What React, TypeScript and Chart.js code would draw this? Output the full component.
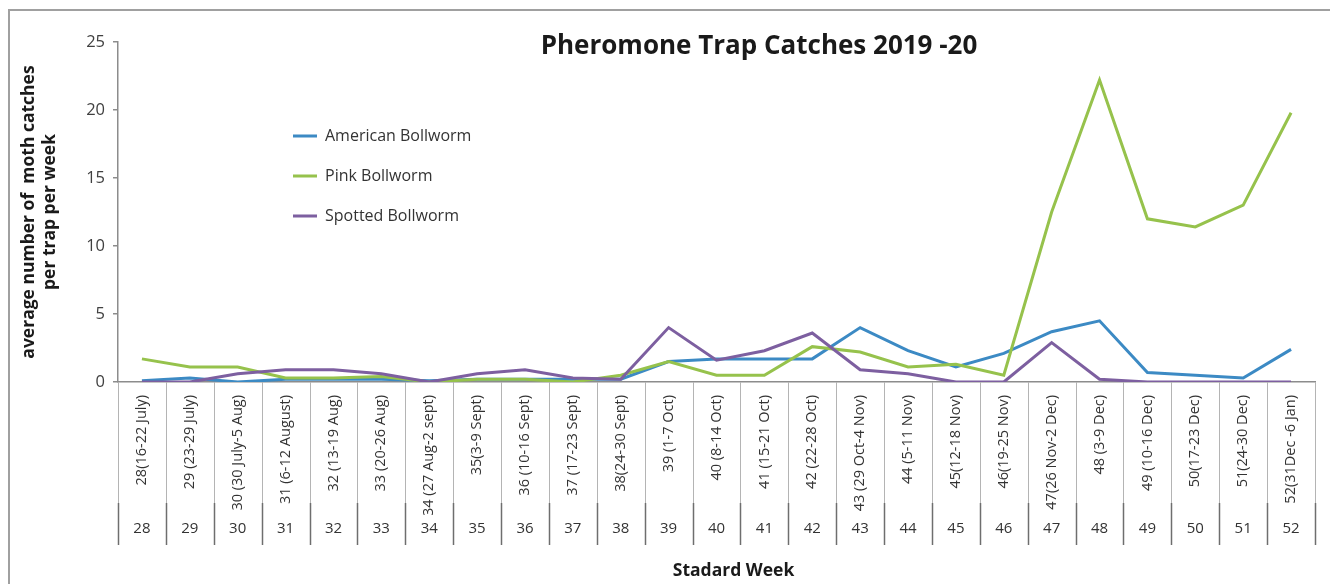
import React, { useEffect, useRef } from 'react';
import { Chart, registerables } from 'chart.js';

Chart.register(...registerables);

const weekLabels = [
  '28(16-22 July)', '29 (23-29 July)', '30 (30 July-5 Aug)', '31 (6-12 August)', '32 (13-19 Aug)',
  '33 (20-26 Aug)', '34 (27 Aug-2 sept)', '35(3-9 Sept)', '36 (10-16 Sept)', '37 (17-23 Sept)',
  '38(24-30 Sept)', '39 (1-7 Oct)', '40 (8-14 Oct)', '41 (15-21 Oct)', '42 (22-28 Oct)',
  '43 (29 Oct-4 Nov)', '44 (5-11 Nov)', '45(12-18 Nov)', '46(19-25 Nov)', '47(26 Nov-2 Dec)',
  '48 (3-9 Dec)', '49 (10-16 Dec)', '50(17-23 Dec)', '51(24-30 Dec)', '52(31Dec -6 Jan)',
];

const weekNumbers = [
  '28', '29', '30', '31', '32', '33', '34', '35', '36', '37', '38', '39', '40',
  '41', '42', '43', '44', '45', '46', '47', '48', '49', '50', '51', '52',
];

const americanBollworm = [0.1, 0.3, 0.0, 0.2, 0.2, 0.2, 0.1, 0.2, 0.2, 0.2, 0.2, 1.5, 1.7, 1.7, 1.7, 4.0, 2.3, 1.1, 2.1, 3.7, 4.5, 0.7, 0.5, 0.3, 2.4];
const pinkBollworm = [1.7, 1.1, 1.1, 0.3, 0.3, 0.4, 0.0, 0.2, 0.2, 0.0, 0.5, 1.5, 0.5, 0.5, 2.6, 2.2, 1.1, 1.3, 0.5, 12.5, 22.2, 12.0, 11.4, 13.0, 19.8];
const spottedBollworm = [0.0, 0.0, 0.6, 0.9, 0.9, 0.6, 0.0, 0.6, 0.9, 0.3, 0.2, 4.0, 1.6, 2.3, 3.6, 0.9, 0.6, 0.0, 0.0, 2.9, 0.2, 0.0, 0.0, 0.0, 0.0];

const yTicks = [0, 5, 10, 15, 20, 25];

const FONT = "'Open Sans', sans-serif";
const BLUE = '#3c8ac4';
const GREEN = '#96c24c';
const PURPLE = '#7d5fa0';

export default function App() {
  const ref = useRef<HTMLCanvasElement | null>(null);

  useEffect(() => {
    if (!ref.current) return;

    const framePlugin = {
      id: 'framePlugin',
      afterLayout(chart: any) {
        const lg = chart.legend;
        if (lg) {
          const w = lg.width;
          const h = lg.height;
          lg.left = 269;
          lg.top = 104;
          lg.right = lg.left + w;
          lg.bottom = lg.top + h;
        }
        const tb = chart.titleBlock;
        if (tb) {
          const h = tb.height;
          tb.left = 259;
          tb.right = 1259;
          tb.top = 47 - h / 2;
          tb.bottom = tb.top + h;
        }
        const x2 = chart.scales.x2;
        if (x2 && !x2.__shifted) {
          const orig = x2.drawTitle.bind(x2);
          x2.drawTitle = function () {
            const ctx = chart.ctx;
            ctx.save();
            ctx.translate(17, 0);
            orig();
            ctx.restore();
          };
          x2.__shifted = true;
        }
      },
      beforeDraw(chart: any) {
        const ctx = chart.ctx;
        ctx.save();
        ctx.fillStyle = '#ffffff';
        ctx.fillRect(0, 0, chart.width, chart.height);
        ctx.strokeStyle = '#a0a0a0';
        ctx.lineWidth = 2;
        ctx.beginPath();
        ctx.moveTo(9, chart.height);
        ctx.lineTo(9, 10);
        ctx.lineTo(chart.width, 10);
        ctx.stroke();
        ctx.restore();
      },
      afterDraw(chart: any) {
        const ctx = chart.ctx;
        const xs = chart.scales.x;
        const n = weekLabels.length;
        const step = (xs.right - xs.left) / n;
        const split = xs.top + 121;
        ctx.save();
        for (let i = 0; i <= n; i++) {
          const px = Math.round(xs.left + i * step) + 0.5;
          ctx.lineWidth = 1;
          ctx.strokeStyle = '#b4b4b4';
          ctx.beginPath();
          ctx.moveTo(px, xs.top);
          ctx.lineTo(px, split);
          ctx.stroke();
          ctx.lineWidth = 1.5;
          ctx.strokeStyle = '#6e6e6e';
          ctx.beginPath();
          ctx.moveTo(px, split);
          ctx.lineTo(px, split + 42);
          ctx.stroke();
        }
        ctx.restore();
      },
    };

    const chart = new Chart(ref.current, {
      type: 'line',
      data: {
        labels: weekLabels,
        datasets: [
          { label: 'American Bollworm', data: americanBollworm, borderColor: BLUE, backgroundColor: BLUE, borderWidth: 3, pointRadius: 0, tension: 0, order: 2 },
          { label: 'Pink Bollworm', data: pinkBollworm, borderColor: GREEN, backgroundColor: GREEN, borderWidth: 3, pointRadius: 0, tension: 0, order: 1 },
          { label: 'Spotted Bollworm', data: spottedBollworm, borderColor: PURPLE, backgroundColor: PURPLE, borderWidth: 3, pointRadius: 0, tension: 0, order: 0 },
        ],
      },
      options: {
        responsive: false,
        animation: false,
        events: [],
        layout: { padding: { left: 14, right: 15, top: 10.8, bottom: 0 } },
        plugins: {
          tooltip: { enabled: false },
          title: {
            display: true,
            text: 'Pheromone Trap Catches 2019 -20',
            color: '#1a1a1a',
            font: { family: FONT, size: 26, weight: 'bold', lineHeight: 1.2 },
            padding: 0,
          },
          legend: {
            position: 'chartArea',
            align: 'start',
            labels: {
              usePointStyle: true,
              pointStyle: 'line',
              pointStyleWidth: 24,
              padding: 24,
              color: '#333333',
              font: { family: FONT, size: 16 },
              sort: (a: any, b: any) => a.datasetIndex - b.datasetIndex,
            },
          },
        },
        scales: {
          x: {
            type: 'category',
            offset: true,
            position: 'bottom',
            grid: { display: false, drawTicks: false },
            border: { display: true, color: '#8c8c8c', width: 1.5 },
            ticks: {
              autoSkip: false,
              minRotation: 90,
              maxRotation: 90,
              padding: 13,
              color: '#333333',
              font: { family: FONT, size: 14.5 },
            },
            afterFit(s: any) { s.height = 133; },
          },
          x2: {
            type: 'category',
            labels: weekNumbers,
            offset: true,
            position: 'bottom',
            grid: { display: false, drawTicks: false },
            border: { display: false },
            ticks: {
              autoSkip: false,
              maxRotation: 0,
              padding: 5,
              color: '#333333',
              font: { family: FONT, size: 15 },
            },
            title: {
              display: true,
              text: 'Stadard Week',
              color: '#1a1a1a',
              font: { family: FONT, size: 17.5, weight: 'bold', lineHeight: 1.2 },
              padding: { top: 0, bottom: 2 },
            },
            afterFit(s: any) { s.height = 69; },
          },
          y: {
            min: 0,
            max: 25,
            afterBuildTicks(s: any) { s.ticks = yTicks.map((v) => ({ value: v })); },
            grid: { drawOnChartArea: false, drawTicks: true, tickLength: 5, color: '#8c8c8c', lineWidth: 1.5 },
            border: { display: true, color: '#8c8c8c', width: 1.5 },
            ticks: {
              padding: 8,
              color: '#404040',
              font: { family: FONT, size: 16.5 },
            },
            title: {
              display: true,
              text: ['average number of  moth catches', 'per trap per week'],
              color: '#1a1a1a',
              font: { family: FONT, size: 17.5, weight: 'bold', lineHeight: 1.2 },
              padding: { top: 5, bottom: 0 },
            },
            afterFit(s: any) { s.width = 104; },
          },
        },
      },
      plugins: [framePlugin],
    } as any);

    return () => chart.destroy();
  }, []);

  return (
    <div style={{ position: 'fixed', left: 0, top: 0, width: 1330, height: 584, background: '#ffffff' }}>
      <canvas ref={ref} width={1330} height={584} style={{ display: 'block', width: 1330, height: 584 }} />
    </div>
  );
}
